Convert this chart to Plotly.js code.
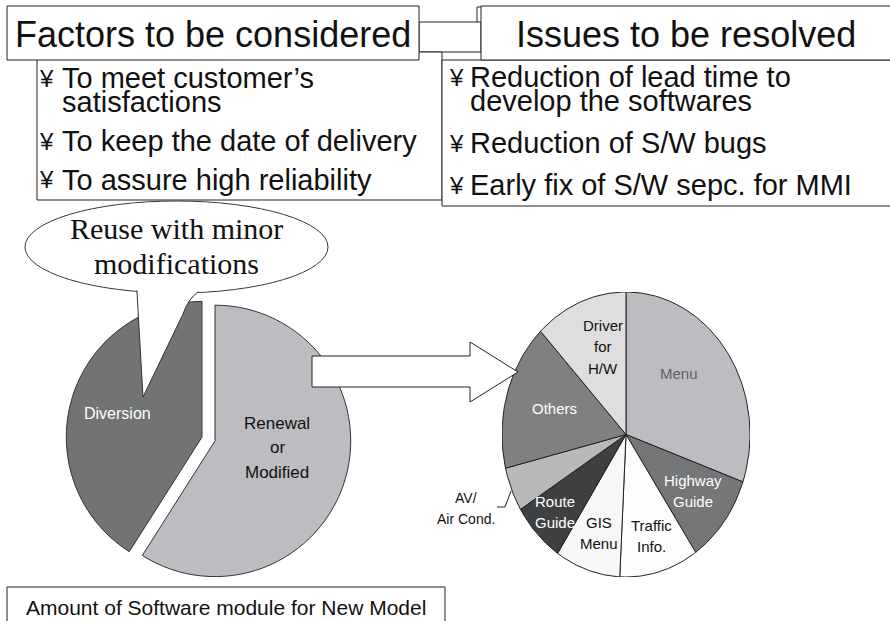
<!DOCTYPE html>
<html>
<head>
<meta charset="utf-8">
<script src="https://cdn.plot.ly/plotly-3.0.1.min.js"></script>
<style>html,body{margin:0;padding:0;background:#fff;}</style>
</head>
<body>
<div id="graph"></div>
<script>
var W = 890, H = 621;

// share of software modules
var mainLabels = ['Renewal or Modified', 'Diversion'];
var mainValues = [59, 41];
var mainColors = ['#bdbcc1', '#717374'];

var subLabels = ['Menu', 'Highway Guide', 'Traffic Info.', 'GIS Menu', 'Route Guide', 'AV/ Air Cond.', 'Others', 'Driver for H/W'];
var subValues = [30.4, 10.1, 10.3, 8.5, 6.9, 5.0, 16.7, 12.1];
var subColors = ['#bdbcc1', '#747677', '#fdfdfd', '#f7f7f7', '#3f4041', '#b9b9bb', '#7f8082', '#dededf'];

var factorsTitle = 'Factors to be considered';
var factors = [["To meet customer\u2019s", 'satisfactions'], ['To keep the date of delivery'], ['To assure high reliability']];
var issuesTitle = 'Issues to be resolved';
var issues = [['Reduction of lead time to', 'develop the softwares'], ['Reduction of S/W bugs'], ['Early fix of S/W sepc. for MMI']];
var bubbleText = ['Reuse with minor', 'modifications'];
var footText = 'Amount of Software module for New Model';

// pixel -> paper helpers
function px(x) { return x / W; }
function py(y) { return 1 - y / H; }
function path(pts, close) {
    var s = pts.map(function (p, i) { return (i ? 'L' : 'M') + px(p[0]) + ',' + py(p[1]); }).join('');
    return close ? s + 'Z' : s;
}
function rect(x0, y0, x1, y1, opts) {
    var s = {type: 'rect', xref: 'paper', yref: 'paper', x0: px(x0), x1: px(x1), y0: py(y1), y1: py(y0),
        fillcolor: '#fff', line: {color: '#222', width: 1}, layer: 'above'};
    for (var k in opts) s[k] = opts[k];
    return s;
}
function txt(x, y, text, size, opts) {
    var a = {xref: 'paper', yref: 'paper', x: px(x), y: py(y), text: text, showarrow: false,
        xanchor: 'center', yanchor: 'middle', font: {size: size, color: '#111', family: 'Liberation Sans, Arial'}};
    for (var k in opts) a[k] = opts[k];
    return a;
}

var traces = [];

// left pie : exploded in two
var pc = [208.5, 439], pr = 142.5;
traces.push({
    type: 'pie', values: mainValues, labels: mainLabels, sort: false,
    direction: 'clockwise', rotation: 0, pull: [0.05, 0.05],
    marker: {colors: mainColors, line: {color: '#333', width: 1}},
    textinfo: 'none', hoverinfo: 'label+percent', showlegend: false,
    domain: {x: [px(pc[0] - pr), px(pc[0] + pr)], y: [py(pc[1] + pr), py(pc[1] - pr)]}
});

// right pie : drawn as filled wedges on a [-1,1] axis pair (the slide squeezed it into an ellipse)
var total = subValues.reduce(function (a, b) { return a + b; }, 0);
var acc = 0;
subValues.forEach(function (v, i) {
    var a0 = acc / total * 2 * Math.PI, a1 = (acc + v) / total * 2 * Math.PI;
    acc += v;
    var xs = [0], ys = [0];
    var steps = Math.max(2, Math.ceil((a1 - a0) / 0.02));
    for (var s = 0; s <= steps; s++) {
        var a = a0 + (a1 - a0) * s / steps;
        xs.push(Math.sin(a));
        ys.push(Math.cos(a));
    }
    xs.push(0); ys.push(0);
    traces.push({
        type: 'scatter', mode: 'lines', x: xs, y: ys, xaxis: 'x2', yaxis: 'y2',
        fill: 'toself', fillcolor: subColors[i], line: {color: '#222', width: 1},
        cliponaxis: false, hoverinfo: 'text', hoveron: 'fills', text: subLabels[i] + ': ' + v + '%', showlegend: false
    });
});

var shapes = [];
// connector between the two heading boxes
shapes.push(rect(419, 22, 481, 52));
shapes.push({type: 'path', xref: 'paper', yref: 'paper', path: path([[477, 22], [477, 7], [481, 7]]), line: {color: '#222', width: 1}, layer: 'above'});
// bullet boxes
shapes.push(rect(37, 52, 442, 200));
shapes.push(rect(442, 60, 892, 206));
// heading boxes
shapes.push(rect(7, 6, 419, 60));
shapes.push(rect(481, 6, 892, 60));
// footer box
shapes.push(rect(7, 587, 445, 640));
// arrow
shapes.push({type: 'path', xref: 'paper', yref: 'paper', fillcolor: '#fff', line: {color: '#222', width: 1}, layer: 'above',
    path: path([[312, 356], [470, 356], [470, 342], [518, 372], [470, 402], [470, 387], [312, 387]], true)});
// speech bubble
shapes.push({type: 'circle', xref: 'paper', yref: 'paper', x0: px(25), x1: px(328), y0: py(293), y1: py(201),
    fillcolor: '#fff', line: {color: '#333', width: 1}, layer: 'above'});
shapes.push({type: 'path', xref: 'paper', yref: 'paper', fillcolor: '#fff', line: {color: '#333', width: 1}, layer: 'above',
    path: 'M' + px(137) + ',' + py(275) + 'L' + px(137) + ',' + py(292) + 'L' + px(143) + ',' + py(397) +
        'L' + px(183) + ',' + py(314) + 'Q' + px(188) + ',' + py(299) + ' ' + px(198) + ',' + py(292) +
        'L' + px(198) + ',' + py(275) + 'Z'});
shapes.push({type: 'circle', xref: 'paper', yref: 'paper', x0: px(26), x1: px(327), y0: py(292), y1: py(202),
    fillcolor: '#fff', line: {width: 0}, layer: 'above'});
// leader for AV / Air Cond.
shapes.push({type: 'path', xref: 'paper', yref: 'paper', path: path([[497, 507], [505, 507], [511, 491]]), line: {color: '#222', width: 1}, layer: 'above'});

var ann = [];
ann.push(txt(213, 34, factorsTitle, 36));
ann.push(txt(686, 34, issuesTitle, 36));

// annotations pad left-anchored text by ~3px, hence the small offsets
function bullets(list, xb, xt, ys) {
    var n = 0;
    list.forEach(function (item, i) {
        item.forEach(function (line, j) {
            if (j === 0) ann.push(txt(xb, ys[n], '\u00a5', 24, {xanchor: 'left'}));
            ann.push(txt(xt, ys[n], line, 29, {xanchor: 'left'}));
            n++;
        });
    });
}
bullets(factors, 37, 60, [78, 102, 141, 180]);
bullets(issues, 447, 468, [77, 101, 143, 185]);

ann.push(txt(176, 228, bubbleText[0], 30, {font: {size: 30, color: '#111', family: 'Liberation Serif, Times New Roman'}}));
ann.push(txt(176, 263, bubbleText[1], 30, {font: {size: 30, color: '#111', family: 'Liberation Serif, Times New Roman'}}));
ann.push(txt(226, 607, footText, 21));

// slice labels
function label(lines, x, y0, dy, size, color) {
    lines.forEach(function (l, i) {
        ann.push(txt(x, y0 + i * dy, l, size, {font: {size: size, color: color, family: 'Liberation Sans, Arial'}}));
    });
}
label(['Diversion'], 117, 413, 0, 16, '#fff');
label(['Renewal', 'or', 'Modified'], 277, 423, 24.5, 17, '#111');

label(['Menu'], 679, 373, 0, 15, '#606060');
label(['Highway', 'Guide'], 693, 480, 21.5, 15, '#fff');
label(['Traffic', 'Info.'], 651, 525, 21.5, 15, '#111');
label(['GIS', 'Menu'], 599, 522, 21.5, 15, '#111');
label(['Route', 'Guide'], 555, 501, 21.5, 15, '#fff');
label(['AV/', 'Air Cond.'], 466, 498, 20.5, 14, '#111');
label(['Others'], 554, 408, 0, 15, '#fff');
label(['Driver', 'for', 'H/W'], 603, 325, 21.5, 15, '#111');

var layout = {
    width: W, height: H,
    margin: {l: 0, r: 0, t: 0, b: 0},
    paper_bgcolor: '#fff', plot_bgcolor: '#fff',
    showlegend: false,
    font: {family: 'Liberation Sans, Arial', color: '#111'},
    xaxis2: {domain: [px(502), px(750)], range: [-1, 1], visible: false, fixedrange: true, anchor: 'y2'},
    yaxis2: {domain: [py(577), py(292)], range: [-1, 1], visible: false, fixedrange: true, anchor: 'x2'},
    shapes: shapes,
    annotations: ann
};

Plotly.newPlot('graph', traces, layout, {displayModeBar: false, staticPlot: true});
</script>
</body>
</html>
